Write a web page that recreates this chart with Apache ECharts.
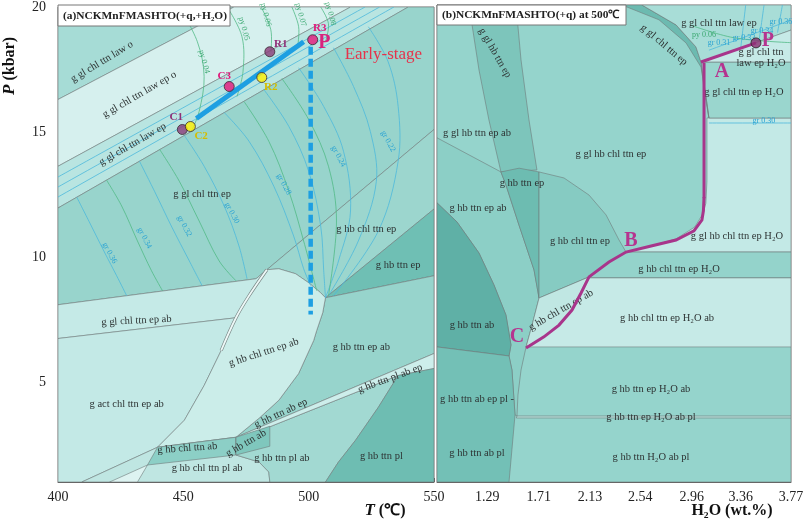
<!DOCTYPE html>
<html>
<head>
<meta charset="utf-8">
<script src="https://cdn.jsdelivr.net/npm/echarts@6/dist/echarts.min.js"></script>
<style>
  html, body { margin: 0; padding: 0; background: #fff; }
  #chart { width: 809px; height: 522px; }
</style>
</head>
<body>
<div id="chart"></div>
<script>
// ---------- (a) T-P pseudosection, outlines as [T (°C), P (kbar)] ----------
const lawO       = [[400,20],[400,16.3],[470.2,20]];
const lawEpO     = [[400,16.3],[470.2,20],[516.7,20],[400,13.63]];
const lawEp      = [[400,13.63],[516.7,20],[539.7,20],[400,11.96]];
const glChlEp    = [[400,11.96],[539.7,20],[550,20],[550,15.1],[483.3,9.49],[479,9.13],[400,8.09]];
const hbChlEp    = [[483.3,9.49],[550,15.1],[550,11.92],[506.7,8.37],[504.8,8.57],[500,8.97],[494.8,9.33],[488.1,9.53]];
const hbEp       = [[506.7,8.37],[550,11.92],[550,9.25]];
const hbEpAb     = [[506.7,8.37],[550,9.25],[550,6.14],[471,2.79],[480.2,3.55],[488.1,4.27],[496,5.34],[502,6.66],[503.2,7.06],[505.6,7.77]];
const glChlEpAb  = [[400,8.09],[479,9.13],[483.3,9.49],[476.2,8.45],[471,7.57],[400,6.74]];
const actChlEpAb = [[400,1],[400,6.74],[471,7.57],[465.1,6.26],[458.3,4.86],[450.4,3.47],[439.7,2.39],[409.5,1]];
const hbChlEpAb  = [[483.3,9.49],[488.1,9.53],[494.8,9.33],[500,8.97],[504.8,8.57],[506.7,8.37],[505.6,7.77],[503.2,7.06],[502,6.66],[496,5.34],[488.1,4.27],[480.2,3.55],[471,2.79],[439.7,2.39],[450.4,3.47],[458.3,4.86],[465.1,6.26],[471,7.57],[476.2,8.45]];
const hbChlPlAb  = [[409.5,1],[439.7,2.39],[471,2.79],[471,2.08],[480.2,1.8],[484.1,1.4],[484.5,1]];
const chlPlAbTip = [[420.6,1],[435.7,1.68],[431.7,1]];
const hbChlAb    = [[439.7,2.39],[471,2.79],[471,2.08],[435.7,1.68]];
const hbPlAb     = [[471,2.67],[535.7,5.26],[527.8,3.99],[518.7,2.67],[511.9,1.8],[506.7,1],[484.5,1],[484.1,1.4],[480.2,1.8],[471,2.08]];
const hbPlAbEp   = [[471,2.79],[550,6.14],[550,5.54],[535.7,5.26],[471,2.67]];
const hbAb       = [[471,2.79],[484.5,3.23],[484.5,2.43],[471,2.08]];
const hbPl       = [[506.7,1],[550,1],[550,5.54],[535.7,5.26],[527.8,3.99],[518.7,2.67],[511.9,1.8]];

const leftFields = [lawO, lawEpO, lawEp, glChlEp, hbChlEp, hbEp, hbEpAb, glChlEpAb, actChlEpAb,
  hbChlEpAb, hbChlPlAb, chlPlAbTip, hbChlAb, hbPlAb, hbPlAbEp, hbAb, hbPl];
const leftColors = ['#a6dcd6', '#d6f0ee', '#b9e5e1', '#98d4cc', '#9cd6ce', '#6fbfb4', '#97d4cc', '#c5eae7', '#c3e9e6',
  '#cbede9', '#bfe6e2', '#ddf3f1', '#8ccfc6', '#a2d9d2', '#cdeeeb', '#7fc7bd', '#6ebdb2'];

// white sliver along the act / hb boundary
const sliverLine = [[483.3,9.49],[476.2,8.45],[471,7.57],[465.1,6.26]];

// isopleths
const grLines = [
  [[407.5,12.39],[412.7,11.36],[418.7,10.16],[423.4,9.25],[427.4,8.45]],
  [[432.5,13.83],[438.5,12.63],[445.2,11.24],[452.4,9.84],[457.5,8.85]],
  [[450.4,14.86],[458.3,13.63],[466.3,12.04],[472.2,10.44],[475.4,9.13]],
  [[466.3,15.78],[476.2,14.63],[486.1,12.83],[494,10.84],[498,9.53],[500.8,8.85]],
  [[482.1,16.7],[492.1,15.22],[500,13.43],[504.8,11.24],[506,9.45],[506.7,8.37]],
  [[496,17.57],[506,16.02],[513.9,14.23],[516.7,11.84],[511.9,9.84],[506.7,8.37]],
  [[509.9,18.37],[517.9,16.82],[524.6,15.02],[527,13.03],[519.8,10.64],[507.9,8.45]],
  [[523.8,19.21],[531.7,17.81],[535.7,16.02],[535.7,13.83],[527.8,11.04],[509.9,8.45]],
  [[400,13.2],[522.5,20]], [[400,12.8],[528.3,20]], [[400,12.4],[534,20]]
];
const pyLines = [
  [[419.4,13.07],[425.4,12.04],[431.7,10.64],[437.3,9.45],[441.7,8.65]],
  [[440.5,14.31],[448.4,13.03],[456.3,11.44],[464.3,9.84],[471,9.05]],
  [[474.2,16.22],[484.1,14.63],[492.1,12.63],[498,10.64],[503.2,8.65]],
  [[489.3,17.14],[500,15.5],[507.9,13.63],[511.1,11.44],[507.9,8.45]],
  [[448.4,20],[455.6,18.61],[458.3,17.22],[456.3,15.82],[453.2,15.02]],
  [[467.5,20],[473.4,18.81],[473.8,17.41],[471.4,16.42]],
  [[481,20],[484.9,19.09],[484.9,18.21]],
  [[493.3,20],[496,19.21],[495.6,18.41]],
  [[504.8,20],[507.9,19.33],[506.7,18.61]]
];

const leftLabels = [
  ['g gl chl ttn law o', 417.5, 17.81, 31],
  ['g gl chl ttn law ep o', 432.5, 16.5, 30],
  ['g gl chl ttn law ep', 429.8, 14.51, 30],
  ['g gl chl ttn ep', 457.5, 12.51, 0],
  ['g hb chl ttn ep', 523, 11.12, 0],
  ['g hb ttn ep', 535.7, 9.69, 0],
  ['g gl chl ttn ep ab', 431.3, 7.45, 3],
  ['g act chl ttn ep ab', 427.4, 4.11, 0],
  ['g hb chl ttn ep ab', 482.1, 6.18, 18],
  ['g hb ttn ep ab', 521, 6.38, 0],
  ['g hb ttn ab ep', 488.9, 3.75, 25],
  ['g hb ttn pl ab ep', 532.5, 5.14, 20],
  ['g hb ttn ab', 475, 2.55, 30],
  ['g hb chl ttn ab', 451.6, 2.35, 4],
  ['g hb chl ttn pl ab', 459.5, 1.56, 0],
  ['g hb ttn pl ab', 489.3, 1.96, 0],
  ['g hb ttn pl', 529, 2.04, 0]
];
const grLabels = [
  ['gr 0.36', 420.6, 10.16], ['gr 0.34', 434.5, 10.76], ['gr 0.32', 450.4, 11.24], ['gr 0.30', 469.4, 11.76],
  ['gr 0.28', 490.1, 12.91], ['gr 0.24', 511.9, 14.03], ['gr 0.22', 531.7, 14.63]
];
const pyLabels = [
  ['py 0.04', 458.3, 17.81], ['py 0.05', 474.2, 19.13], ['py 0.06', 482.9, 19.69],
  ['py 0.07', 496.8, 19.69], ['py 0.08', 508.7, 19.73]
];

// sample points and P-T path
const samplePts   = [[449.6,15.1],[452.8,15.22],[468.3,16.82],[484.5,18.21],[481.3,17.18],[501.6,18.69]];
const sampleNames = ['C1', 'C2', 'C3', 'R1', 'R2', 'R3'];
const sampleTags  = [[447.2,15.58],[457.1,14.82],[466.3,17.25],[488.9,18.53],[484.9,16.78],[504.4,19.17]];
const sampleColors = ['#8a3c78', '#fff000', '#e5157a', '#8a3c78', '#fff000', '#e5157a'];
const tagColors    = ['#8e2e76', '#d4bd00', '#e0187a', '#8e2e76', '#d4bd00', '#e0187a'];
const progradePath = [[455.2,15.54],[498,18.61]];
const retroPath    = [[500.8,18.41],[500.8,7.7]];

// ---------- (b) H2O-P pseudosection at 500 °C, outlines as [H2O (wt.%), P (kbar)] ----------
const rBase       = [[0.88,1],[3.77,1],[3.77,20],[0.88,20]];
const rGlHbEp     = [[1.141,20],[1.223,17.41],[1.304,15.42],[1.402,13.35],[1.696,13.43],[1.631,15.42],[1.566,17.81],[1.525,20]];
const rHbEpAb     = [[0.88,14.71],[1.402,13.35],[1.443,12.83],[1.549,11.24],[1.672,9.45],[1.713,8.33],[1.656,7.25],[1.607,6.38],[1.566,5.46],[1.541,4.47],[1.533,3.63],[1.517,3.67],[1.492,5.46],[1.468,6.02],[1.484,6.46],[1.443,7.65],[1.345,8.85],[1.223,10.12],[1.043,11.36],[0.88,12.12]];
const rHbEp       = [[1.402,13.35],[1.55,13.5],[1.713,13.35],[1.713,8.33],[1.672,9.45],[1.549,11.24],[1.443,12.83]];
const rHbChlEp    = [[1.713,13.35],[1.917,13.11],[2.121,12.43],[2.26,11.64],[2.366,10.64],[2.423,10.16],[2.284,9.76],[2.121,9.17],[1.713,8.33]];
const rHbChlEpAb  = [[1.713,8.33],[2.121,9.17],[2.056,8.53],[1.982,7.85],[1.876,7.25],[1.753,6.78],[1.607,6.38],[1.656,7.25]];
const rHbAb       = [[0.88,12.12],[1.043,11.36],[1.223,10.12],[1.345,8.85],[1.443,7.65],[1.484,6.46],[1.468,6.02],[0.88,6.38]];
const rHbAbPl     = [[0.88,6.38],[1.468,6.02],[1.492,5.46],[1.517,3.67],[1.468,1],[0.88,1]];
const rEpH2OAbPl  = [[1.533,3.63],[3.77,3.63],[3.77,3.55],[1.528,3.55]];
const rGlHbChlH2O = [[3.084,15.5],[3.77,15.5],[3.77,10.16],[2.423,10.16],[2.611,10.38],[2.831,10.68],[2.985,11.16],[3.05,11.68],[3.075,12.1],[3.084,13]];
const rHbChlH2O   = [[2.423,10.16],[3.77,10.16],[3.77,9.13],[2.121,9.13],[2.284,9.76]];
const rHbChlH2OAb = [[2.121,9.13],[3.77,9.13],[3.77,6.38],[1.607,6.38],[1.753,6.78],[1.876,7.25],[1.982,7.85],[2.056,8.53]];
const rGlChlH2O   = [[3.035,17.73],[3.77,17.73],[3.77,15.5],[3.1,15.5],[3.076,16.34]];
const rGlChlEp    = [[2.39,20],[2.553,20],[2.831,19.21],[2.994,18.33],[3.035,17.73],[3.06,16.62],[3.1,15.5],[3.076,16.34],[3.035,17.53],[2.913,18.49],[2.692,19.41]];
const rLawEp      = [[2.553,20],[3.77,20],[3.77,19],[3.484,18.49],[3.035,17.73],[2.994,18.33],[2.831,19.21]];
const rLawEpH2O   = [[3.035,17.73],[3.77,19],[3.77,17.73]];

const rightFields = [rBase, rGlHbEp, rHbEpAb, rHbEp, rHbChlEp, rHbChlEpAb, rHbAb, rHbAbPl, rEpH2OAbPl,
  rGlHbChlH2O, rHbChlH2O, rHbChlH2OAb, rGlChlH2O, rGlChlEp, rLawEp, rLawEpH2O];
const rightColors = ['#95d4cc', '#7dc5bb', '#8ccfc6', '#6dbcb1', '#86cbc2', '#c0e7e3', '#5fb0a6', '#73c0b6', '#b5e2dd',
  '#c3e9e6', '#94d3cb', '#c6eae7', '#9ad6ce', '#6cbab0', '#a8ddd7', '#c6eae7'];

const rightGrLines = [
  [[3.1,15.3],[3.77,15.3]],
  [[3.4,20],[3.36,18.3]], [[3.55,20],[3.51,18.6]], [[3.7,20],[3.66,18.9]],
  [[3.1,18.2],[3.77,19.4]]
];
const rightPyLines = [[[2.95,19.2],[3.3,18.7],[3.77,18.5]]];

const rightLabels = [
  ['g gl hb ttn ep', 1.353, 18.09, -60],
  ['g gl hb ttn ep ab', 1.207, 14.9, 0],
  ['g gl hb chl ttn ep', 2.3, 14.07, 0],
  ['g gl chl ttn ep', 2.733, 18.41, -40],
  ['g gl chl ttn law ep', 3.182, 19.29, 0],
  ['g gl chl ttn', 3.525, 18.13, 0],
  ['law ep H₂O', 3.525, 17.69, 0],
  ['g gl chl ttn ep H₂O', 3.386, 16.54, 0],
  ['g hb ttn ep', 1.574, 12.91, 0],
  ['g hb ttn ep ab', 1.215, 11.92, 0],
  ['g hb chl ttn ep', 2.047, 10.6, 0],
  ['g gl hb chl ttn ep H₂O', 3.329, 10.8, 0],
  ['g hb chl ttn ep H₂O', 2.856, 9.49, 0],
  ['g hb chl ttn ep H₂O ab', 2.758, 7.53, 0],
  ['g hb chl ttn ep ab', 1.892, 7.85, 30],
  ['g hb ttn ab', 1.166, 7.25, 0],
  ['g hb ttn ab ep pl -', 1.207, 4.31, 0],
  ['g hb ttn ab pl', 1.207, 2.16, 0],
  ['g hb ttn ep H₂O ab', 2.627, 4.71, 0],
  ['g hb ttn ep H₂O ab pl', 2.627, 3.59, 0],
  ['g hb ttn H₂O ab pl', 2.627, 2.0, 0]
];
const rightIsoLabels = [
  ['gr 0.31', 3.182, 18.49], ['gr 0.33', 3.386, 18.69], ['gr 0.34', 3.533, 18.97],
  ['gr 0.36', 3.688, 19.33], ['gr 0.30', 3.549, 15.38]
];
const rightPyLabels = [['py 0.06', 3.06, 18.81]];
const stageTags = [['A', 3.206, 17.33], ['B', 2.464, 10.6], ['C', 1.533, 6.78], ['P', 3.582, 18.57]];
const peakPoint = [[3.484, 18.49]];
const pathToA = [[3.484,18.49],[3.035,17.73]];
const pathAtoB = [[3.06,17.69],[3.06,12.3]];
const pathBtoC = [[3.06,12.35],[3.055,11.8],[3.043,11.44],[2.978,11.0],[2.831,10.64],[2.611,10.38],[2.423,10.16],
  [2.284,9.76],[2.121,9.17],[2.056,8.53],[1.982,7.85],[1.876,7.25],[1.753,6.78],[1.607,6.34]];

const xLabelsRight = [1.29, 1.71, 2.13, 2.54, 2.96, 3.36, 3.77];
const rightTicks = [];
for (let v = 0.9; v < 3.77; v += 0.1) rightTicks.push(+v.toFixed(2));

// ---------- chart ----------
const SERIF = '"Liberation Serif","Times New Roman",serif';
const chart = echarts.init(document.getElementById('chart'));

function fieldSeries(i, fields, colors) {
  return {
    type: 'custom', xAxisIndex: i, yAxisIndex: i, silent: true, clip: true, z: 1,
    data: fields.map((f, k) => [f[0][0], f[0][1], k]),
    encode: { x: 0, y: 1 },
    renderItem: (params, api) => ({
      type: 'polygon',
      shape: { points: fields[params.dataIndex].map(p => api.coord(p)) },
      style: { fill: colors[params.dataIndex], stroke: '#6e7b7a', lineWidth: 0.6 }
    })
  };
}
function curveSeries(i, curves, color, width, z) {
  return {
    type: 'custom', xAxisIndex: i, yAxisIndex: i, silent: true, clip: true, z: z || 2,
    data: curves.map((c, k) => [c[0][0], c[0][1], k]),
    encode: { x: 0, y: 1 },
    renderItem: (params, api) => ({
      type: 'polyline',
      shape: { points: curves[params.dataIndex].map(p => api.coord(p)), smooth: 0.35 },
      style: { stroke: color, fill: null, lineWidth: width }
    })
  };
}
function labelSeries(i, labels, font, color) {
  return {
    type: 'custom', xAxisIndex: i, yAxisIndex: i, silent: true, z: 5,
    data: labels.map(l => [l[1], l[2]]),
    encode: { x: 0, y: 1 },
    renderItem: (params, api) => {
      const l = labels[params.dataIndex];
      const p = api.coord([l[1], l[2]]);
      const c = Array.isArray(color) ? color[params.dataIndex] : color;
      return {
        type: 'text', x: p[0], y: p[1], rotation: (l[3] || 0) * Math.PI / 180,
        style: { text: l[0], font: font, fill: c, align: 'center', verticalAlign: 'middle' }
      };
    }
  };
}
function valueAxis(i, extra) {
  return Object.assign({
    gridIndex: i, type: 'value', splitLine: { show: false },
    axisLine: { lineStyle: { color: '#666', width: 1 } },
    axisTick: { inside: true, length: 4, lineStyle: { color: '#666' } },
    axisLabel: { color: '#222', fontFamily: SERIF, fontSize: 14, margin: 9 }
  }, extra);
}

const fieldFont = '10.5px ' + SERIF;
const isoFont = '8px ' + SERIF;

chart.setOption({
  animation: false,
  grid: [
    { left: 58, top: 5, width: 376, height: 477, show: true, borderColor: '#666', borderWidth: 1 },
    { left: 437, top: 5, width: 354, height: 477, show: true, borderColor: '#666', borderWidth: 1 }
  ],
  xAxis: [
    valueAxis(0, { min: 400, max: 550, interval: 10,
      axisLabel: { color: '#222', fontFamily: SERIF, fontSize: 14, margin: 8, formatter: v => (v % 50 === 0 ? v : '') } }),
    valueAxis(1, { min: 0.88, max: 3.77,
      axisTick: { inside: true, length: 4, lineStyle: { color: '#666' }, customValues: rightTicks },
      axisLabel: { color: '#222', fontFamily: SERIF, fontSize: 14, margin: 8, customValues: xLabelsRight,
        formatter: v => v.toFixed(2) } })
  ],
  yAxis: [
    valueAxis(0, { min: 1, max: 20, interval: 1,
      axisLabel: { color: '#222', fontFamily: SERIF, fontSize: 14, margin: 12, formatter: v => (v % 5 === 0 ? v : '') } }),
    valueAxis(1, { min: 1, max: 20, interval: 1, axisLabel: { show: false } })
  ],
  graphic: [
    { type: 'rect', z: 100, shape: { x: 58, y: 5, width: 172, height: 21 }, style: { fill: '#fff', stroke: '#777', lineWidth: 1 } },
    { type: 'text', z: 101, x: 63, y: 16, style: { text: '(a)NCKMnFMASHTO(+q,+H₂O)', font: 'bold 11.4px ' + SERIF, fill: '#222', verticalAlign: 'middle' } },
    { type: 'rect', z: 100, shape: { x: 437, y: 5, width: 189, height: 20 }, style: { fill: '#fff', stroke: '#777', lineWidth: 1 } },
    { type: 'text', z: 101, x: 442, y: 15.5, style: { text: '(b)NCKMnFMASHTO(+q) at 500℃', font: 'bold 11.4px ' + SERIF, fill: '#222', verticalAlign: 'middle' } },
    { type: 'text', z: 101, x: 10, y: 66, rotation: Math.PI / 2,
      style: { text: '{i|P}{b| (kbar)}', align: 'center', verticalAlign: 'middle',
        rich: { i: { font: 'italic bold 17px ' + SERIF, fill: '#111' }, b: { font: 'bold 16px ' + SERIF, fill: '#111' } } } },
    { type: 'text', z: 101, x: 385, y: 511,
      style: { text: '{i|T}{b| (℃)}', align: 'center', verticalAlign: 'middle',
        rich: { i: { font: 'italic bold 17px ' + SERIF, fill: '#111' }, b: { font: 'bold 16px ' + SERIF, fill: '#111' } } } },
    { type: 'text', z: 101, x: 732, y: 511,
      style: { text: 'H₂O (wt.%)', font: 'bold 16px ' + SERIF, fill: '#111', align: 'center', verticalAlign: 'middle' } }
  ],
  series: [
    fieldSeries(0, leftFields, leftColors),
    curveSeries(0, [sliverLine], '#7c8a89', 3.2, 1.5),
    curveSeries(0, [sliverLine], '#eef9f8', 1.8, 1.6),
    curveSeries(0, grLines, '#4cb9dc', 0.8),
    curveSeries(0, pyLines, '#52ba86', 0.8),
    labelSeries(0, leftLabels.map(l => [l[0], l[1], l[2], l[3]]), fieldFont, '#2e3434'),
    labelSeries(0, grLabels.map(l => [l[0], l[1], l[2], -62]), isoFont, '#2aa3d3'),
    labelSeries(0, pyLabels.map(l => [l[0], l[1], l[2], -75]), isoFont, '#3aa870'),
    {
      type: 'lines', coordinateSystem: 'cartesian2d', xAxisIndex: 0, yAxisIndex: 0, z: 6,
      polyline: true, symbol: ['none', 'arrow'], symbolSize: 15,
      lineStyle: { color: '#1d9fe2', width: 5, opacity: 1 },
      data: [{ coords: progradePath }]
    },
    {
      type: 'lines', coordinateSystem: 'cartesian2d', xAxisIndex: 0, yAxisIndex: 0, z: 6,
      polyline: true, symbol: ['none', 'arrow'], symbolSize: 15,
      lineStyle: { color: '#1d9fe2', width: 4.5, opacity: 1, type: [8, 4] },
      data: [{ coords: retroPath }]
    },
    {
      type: 'scatter', xAxisIndex: 0, yAxisIndex: 0, z: 7, symbolSize: 10,
      data: samplePts.map((p, k) => ({ value: p, itemStyle: { color: sampleColors[k], borderColor: '#3a2a33', borderWidth: 1 } }))
    },
    labelSeries(0, sampleNames.map((n, k) => [n, sampleTags[k][0], sampleTags[k][1], 0]), 'bold 11px ' + SERIF, tagColors),
    labelSeries(0, [['P', 506.3, 18.57, 0]], 'bold 20px ' + SERIF, '#d8237e'),
    labelSeries(0, [['Early-stage', 529.8, 18.09, 0]], '17px ' + SERIF, '#e5334b'),

    fieldSeries(1, rightFields, rightColors),
    curveSeries(1, rightGrLines, '#4cb9dc', 0.8),
    curveSeries(1, rightPyLines, '#52ba86', 0.8),
    labelSeries(1, rightLabels, fieldFont, '#2e3434'),
    labelSeries(1, rightIsoLabels.map(l => [l[0], l[1], l[2], 0]), isoFont, '#2aa3d3'),
    labelSeries(1, rightPyLabels.map(l => [l[0], l[1], l[2], 0]), isoFont, '#3aa870'),
    {
      type: 'lines', coordinateSystem: 'cartesian2d', xAxisIndex: 1, yAxisIndex: 1, z: 6,
      polyline: true, symbol: ['none', 'arrow'], symbolSize: 13,
      lineStyle: { color: '#a8358b', width: 3, opacity: 1 },
      data: [{ coords: pathToA }, { coords: pathAtoB }, { coords: pathBtoC }]
    },
    {
      type: 'scatter', xAxisIndex: 1, yAxisIndex: 1, z: 7, symbolSize: 10,
      data: peakPoint.map(p => ({ value: p, itemStyle: { color: '#8a2f72', borderColor: '#222', borderWidth: 1 } }))
    },
    labelSeries(1, stageTags.map(t => [t[0], t[1], t[2], 0]), 'bold 20px ' + SERIF, '#b5348f')
  ]
});
</script>
</body>
</html>
